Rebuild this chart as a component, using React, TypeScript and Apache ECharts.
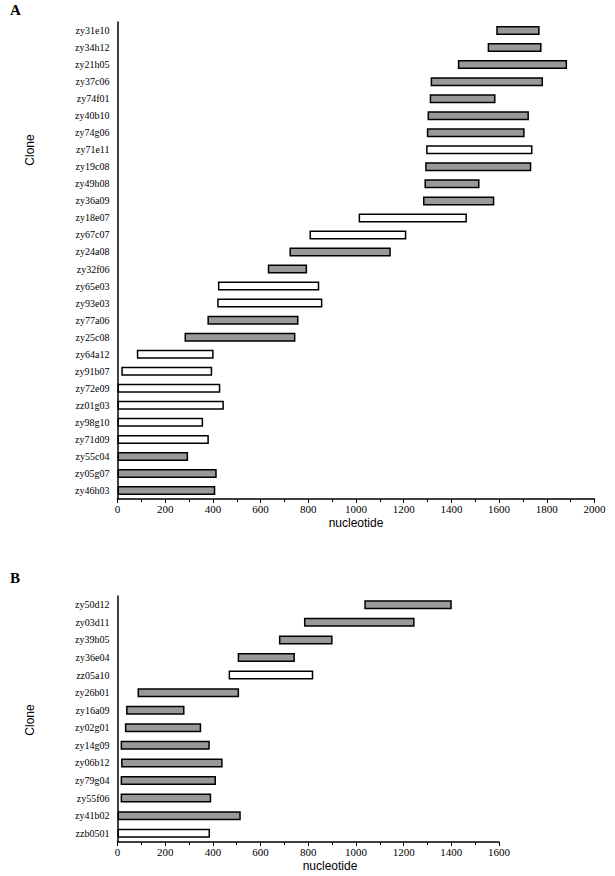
import React, { useEffect, useRef } from 'react';
import * as echarts from 'echarts';

const clonesA = ['zy31e10','zy34h12','zy21h05','zy37c06','zy74f01','zy40b10','zy74g06','zy71e11','zy19c08','zy49h08','zy36a09','zy18e07','zy67c07','zy24a08','zy32f06','zy65e03','zy93e03','zy77a06','zy25c08','zy64a12','zy91b07','zy72e09','zz01g03','zy98g10','zy71d09','zy55c04','zy05g07','zy46h03'];
const startA = [1588,1552,1427,1313,1309,1300,1297,1294,1290,1287,1281,1011,805,721,630,421,418,377,281,81,16,0,0,0,0,0,0,0];
const endA = [1770,1778,1885,1784,1585,1725,1707,1740,1735,1518,1580,1465,1211,1146,795,846,859,759,746,403,397,431,446,359,383,296,416,410];
const fillA = ['g','g','g','g','g','g','g','w','g','g','g','w','w','g','g','w','w','g','g','w','w','w','w','w','w','g','g','g'];

const clonesB = ['zy50d12','zy03d11','zy39h05','zy36e04','zz05a10','zy26b01','zy16a09','zy02g01','zy14g09','zy06b12','zy79g04','zy55f06','zy41b02','zzb0501'];
const startB = [1035,782,677,504,466,84,36,31,13,15,13,13,0,0];
const endB = [1402,1246,902,744,821,510,281,351,387,441,413,393,517,388];
const fillB = ['g','g','g','g','w','g','g','g','g','g','g','g','g','w'];

const ticksA = { min: 0, max: 2000, interval: 200 };
const ticksB = { min: 0, max: 1600, interval: 200 };

const GRAY = '#999999';
const SERIF = "'Liberation Serif', 'Times New Roman', serif";
const SANS = "'Liberation Sans', Arial, sans-serif";

function xAxisFor(gridIndex: number, t: { min: number; max: number; interval: number }) {
  return {
    type: 'value', gridIndex, min: t.min, max: t.max, interval: t.interval,
    axisLine: { show: true, lineStyle: { color: '#000', width: 1.5 } },
    axisTick: { show: true, length: 4, lineStyle: { color: '#000', width: 1 } },
    minorTick: { show: true, splitNumber: 2, length: 3, lineStyle: { color: '#000', width: 1 } },
    splitLine: { show: false },
    minorSplitLine: { show: false },
    axisLabel: { color: '#000', fontFamily: SERIF, fontSize: 11, margin: 4, formatter: (v: number) => String(v) },
  };
}

function yAxisFor(gridIndex: number, clones: string[]) {
  return {
    type: 'category', gridIndex, data: clones, inverse: true,
    axisLine: { show: true, lineStyle: { color: '#000', width: 1.5 } },
    axisTick: { show: false },
    splitLine: { show: false },
    axisLabel: { color: '#000', fontFamily: SERIF, fontSize: 10, margin: 8 },
  };
}

function seriesFor(idx: number, starts: number[], ends: number[], fills: string[], barWidth: number) {
  return [
    {
      type: 'bar', xAxisIndex: idx, yAxisIndex: idx, stack: 'range' + idx,
      data: starts, barWidth,
      itemStyle: { color: 'transparent', borderWidth: 0 },
      silent: true,
    },
    {
      type: 'bar', xAxisIndex: idx, yAxisIndex: idx, stack: 'range' + idx,
      barWidth,
      data: ends.map((e, i) => ({
        value: e - starts[i],
        itemStyle: { color: fills[i] === 'w' ? '#fff' : GRAY, borderColor: '#000', borderWidth: 1.5 },
      })),
    },
  ];
}

export default function App() {
  const ref = useRef<HTMLDivElement>(null);
  useEffect(() => {
    if (!ref.current) return;
    const chart = echarts.init(ref.current, undefined, { renderer: 'svg' });
    chart.setOption({
      animation: false,
      backgroundColor: '#fff',
      grid: [
        { left: 117.5, right: 20.5, top: 22, bottom: 377 },
        { left: 117.5, right: 116, top: 596, bottom: 34 },
      ],
      xAxis: [xAxisFor(0, ticksA), xAxisFor(1, ticksB)],
      yAxis: [yAxisFor(0, clonesA), yAxisFor(1, clonesB)],
      series: [
        ...seriesFor(0, startA, endA, fillA, 9),
        ...seriesFor(1, startB, endB, fillB, 9),
      ],
      graphic: [
        { type: 'text', left: 10, top: 2, style: { text: 'A', font: `bold 15px ${SERIF}`, fill: '#000' } },
        { type: 'text', left: 10, top: 570, style: { text: 'B', font: `bold 15px ${SERIF}`, fill: '#000' } },
        { type: 'text', x: 356, y: 523, style: { text: 'nucleotide', font: `12px ${SANS}`, fill: '#000', align: 'center', verticalAlign: 'middle' } },
        { type: 'text', x: 330, y: 866, style: { text: 'nucleotide', font: `12px ${SANS}`, fill: '#000', align: 'center', verticalAlign: 'middle' } },
        { type: 'text', x: 30, y: 150, rotation: Math.PI / 2, style: { text: 'Clone', font: `12px ${SANS}`, fill: '#000', align: 'center', verticalAlign: 'middle' } },
        { type: 'text', x: 30, y: 720, rotation: Math.PI / 2, style: { text: 'Clone', font: `12px ${SANS}`, fill: '#000', align: 'center', verticalAlign: 'middle' } },
      ],
    });
    return () => chart.dispose();
  }, []);
  return <div ref={ref} style={{ width: 615, height: 876, position: 'absolute', left: 0, top: 0 }} />;
}
